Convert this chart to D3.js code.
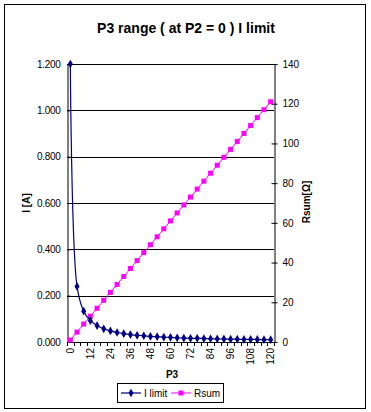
<!DOCTYPE html>
<html>
<head>
<meta charset="utf-8">
<script src="https://cdn.jsdelivr.net/npm/d3@7"></script>
<style>
  body { margin: 0; background: #fff; }
  text { font-family: Arial, "Liberation Sans", sans-serif; fill: #000; }
</style>
</head>
<body>
<script>
// P3 steps, series
const p3 = [0, 4, 8, 12, 16, 20, 24, 28, 32, 36, 40, 44, 48, 52, 56, 60,
  64, 68, 72, 76, 80, 84, 88, 92, 96, 100, 104, 108, 112, 116, 120];
const iLimit = [1.200, 0.240, 0.133, 0.092, 0.071, 0.057, 0.048, 0.041, 0.036, 0.032,
  0.029, 0.027, 0.024, 0.023, 0.021, 0.020, 0.018, 0.017, 0.016, 0.016,
  0.015, 0.014, 0.013, 0.013, 0.012, 0.012, 0.011, 0.011, 0.011, 0.010, 0.010];
const rSum = [1, 5, 9, 13, 17, 21, 25, 29, 33, 37, 41, 45, 49, 53, 57, 61,
  65, 69, 73, 77, 81, 85, 89, 93, 97, 101, 105, 109, 113, 117, 121];
const leftTicks = [0, 0.2, 0.4, 0.6, 0.8, 1.0, 1.2];
const rightTicks = [0, 20, 40, 60, 80, 100, 120, 140];
const xLabels = [0, 12, 24, 36, 48, 60, 72, 84, 96, 108, 120];

const W = 371, H = 412;
const pLeft = 67, pRight = 274, pTop = 64, pBottom = 342;

let svg = d3.select("body").append("svg")
  .attr("width", W).attr("height", H);

svg.append("rect")
  .attr("x", 4.5).attr("y", 4.5).attr("width", 361).attr("height", 404)
  .attr("fill", "#fff").attr("stroke", "#000");

svg.append("text")
  .attr("x", 186).attr("y", 33)
  .attr("text-anchor", "middle")
  .style("font-size", "14px").style("font-weight", "bold")
  .text("P3 range ( at P2 = 0 ) I limit");

const x = d3.scaleBand().domain(p3).range([pLeft, pRight]).padding(0);
const cx = d => x(d) + x.bandwidth() / 2;
const yL = d3.scaleLinear().domain([0, 1.2]).range([pBottom, pTop]);
const yR = d3.scaleLinear().domain([0, 140]).range([pBottom, pTop]);

// gridlines
svg.append("g").selectAll("line")
  .data(leftTicks.slice(1))
  .enter().append("line")
  .attr("x1", pLeft).attr("x2", pRight)
  .attr("y1", d => Math.round(yL(d)) + 0.5).attr("y2", d => Math.round(yL(d)) + 0.5)
  .attr("stroke", "#000");

// left axis
let gl = svg.append("g").attr("transform", `translate(${pLeft + 0.5},0)`)
  .call(d3.axisLeft(yL).tickValues(leftTicks).tickFormat(d3.format(".3f")).tickSizeOuter(0).tickSizeInner(3).tickPadding(4));
gl.selectAll(".tick line").attr("x2", 3);
gl.selectAll("text").style("font-size", "10px").style("letter-spacing", "-0.3px");

// right axis
let gr = svg.append("g").attr("transform", `translate(${pRight + 0.5},0)`)
  .call(d3.axisRight(yR).tickValues(rightTicks).tickSizeOuter(0).tickSizeInner(3).tickPadding(5));
gr.selectAll(".tick line").attr("x1", -3);
gr.selectAll("text").style("font-size", "10px");

// bottom axis
svg.append("line")
  .attr("x1", pLeft).attr("x2", pRight + 1)
  .attr("y1", pBottom + 0.5).attr("y2", pBottom + 0.5).attr("stroke", "#000");
svg.append("g").selectAll("line")
  .data(p3.map(d => x(d)).concat([pRight]))
  .enter().append("line")
  .attr("x1", d => Math.round(d) + 0.5).attr("x2", d => Math.round(d) + 0.5)
  .attr("y1", pBottom).attr("y2", pBottom + 4)
  .attr("stroke", "#000");
svg.append("g").selectAll("text")
  .data(xLabels)
  .enter().append("text")
  .attr("transform", d => `translate(${cx(d)},${pBottom + 6}) rotate(-90)`)
  .attr("text-anchor", "end").attr("dy", "0.35em")
  .style("font-size", "10px")
  .text(d => d);

// axis titles
svg.append("text")
  .attr("transform", "translate(26,203) rotate(-90)")
  .attr("text-anchor", "middle").attr("dy", "0.35em")
  .style("font-size", "10px").style("font-weight", "bold")
  .text("I [A]");
svg.append("text")
  .attr("transform", "translate(306,202) rotate(-90)")
  .attr("text-anchor", "middle").attr("dy", "0.35em")
  .style("font-size", "10px").style("font-weight", "bold")
  .text("Rsum[Ω]");
svg.append("text")
  .attr("x", 172).attr("y", 378)
  .attr("text-anchor", "middle")
  .style("font-size", "10px").style("font-weight", "bold")
  .text("P3");

const navy = "#000080", magenta = "#ff00ff";
const diamond = d3.symbol().type(d3.symbolDiamond).size(22);

// Rsum series
svg.append("path")
  .datum(p3.map((d, i) => [cx(d), yR(rSum[i])]))
  .attr("d", d3.line())
  .attr("fill", "none").attr("stroke", magenta).attr("stroke-width", 1);
svg.append("g").selectAll("rect")
  .data(p3.map((d, i) => [cx(d), yR(rSum[i])]))
  .enter().append("rect")
  .attr("x", d => d[0] - 2.5).attr("y", d => d[1] - 2.5)
  .attr("width", 5).attr("height", 5)
  .attr("fill", magenta);

// I limit series (smoothed)
svg.append("path")
  .datum(p3.map((d, i) => [cx(d), yL(iLimit[i])]))
  .attr("d", d3.line().curve(d3.curveCatmullRom.alpha(0.5)))
  .attr("fill", "none").attr("stroke", navy).attr("stroke-width", 1.2);
svg.append("g").selectAll("path")
  .data(p3.map((d, i) => [cx(d), yL(iLimit[i])]))
  .enter().append("path")
  .attr("transform", d => `translate(${d[0]},${d[1]})`)
  .attr("d", diamond)
  .attr("fill", navy);

// legend
let lg = svg.append("g");
lg.append("rect")
  .attr("x", 117.5).attr("y", 383.5).attr("width", 106).attr("height", 19)
  .attr("fill", "#fff").attr("stroke", "#000");
lg.append("line").attr("x1", 121).attr("x2", 141).attr("y1", 393).attr("y2", 393)
  .attr("stroke", navy).attr("stroke-width", 1.2);
lg.append("path").attr("transform", "translate(131,393)").attr("d", diamond).attr("fill", navy);
lg.append("text").attr("x", 144).attr("y", 396.5).style("font-size", "10px").text("I limit");
lg.append("line").attr("x1", 171).attr("x2", 191).attr("y1", 393).attr("y2", 393)
  .attr("stroke", magenta);
lg.append("rect").attr("x", 178.5).attr("y", 390.5).attr("width", 5).attr("height", 5).attr("fill", magenta);
lg.append("text").attr("x", 194).attr("y", 396.5).style("font-size", "10px").text("Rsum");
</script>
</body>
</html>
